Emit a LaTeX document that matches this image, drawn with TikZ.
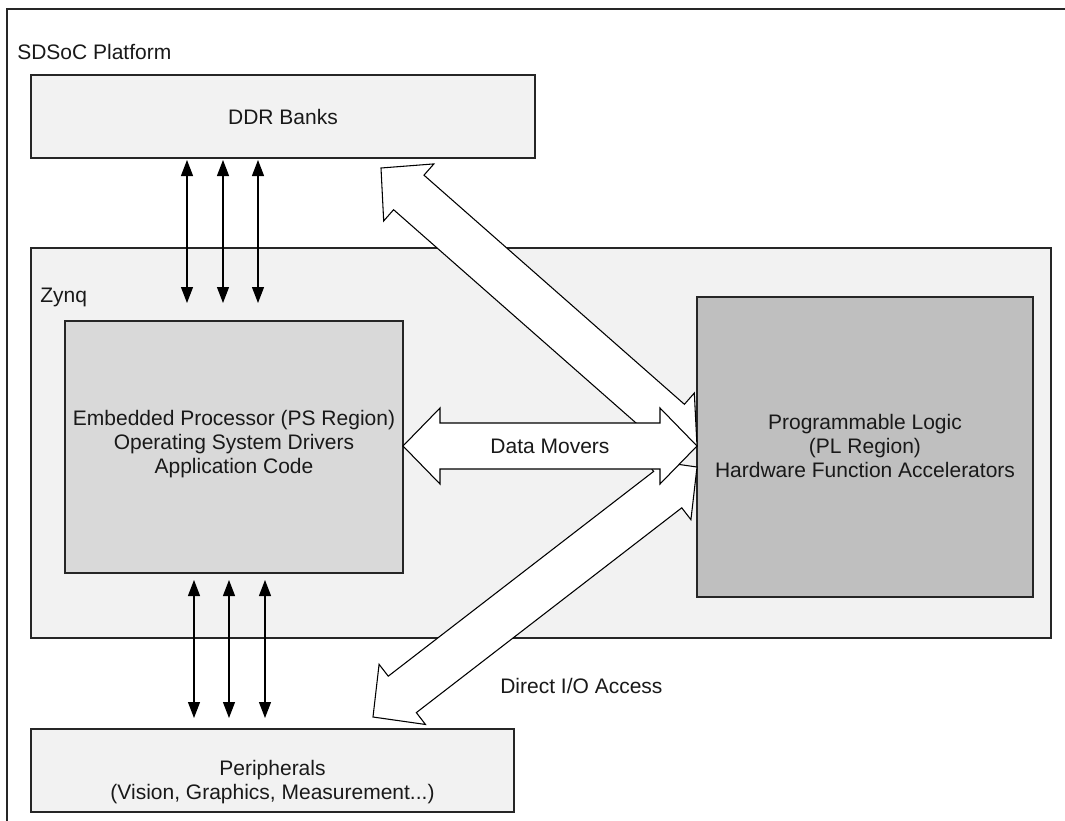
\documentclass[tikz,border=0pt]{standalone}
\usepackage{fontspec}
\setmainfont{Liberation Sans}
\usetikzlibrary{calc,arrows.meta}
\tikzset{
  box/.style={draw=black!85, line width=0.9pt, fill=#1, inner sep=0pt},
  lbl/.style={font=\fontsize{15.75}{18}\selectfont, align=center, inner sep=0pt, text=black!90},
  thinarrow/.style={draw=black, line width=0.9pt, {Triangle[width=9pt,length=12pt]}-{Triangle[width=9pt,length=12pt]}},
  blockarrow/.style={draw=black, line width=0.8pt, fill=white, line join=miter},
}
\newcommand{\blockarr}[2]{%
  \path ($(#1)!27.75pt!(#2)$) coordinate (h1) ($(#2)!27.75pt!(#1)$) coordinate (h2);
  \draw[blockarrow] (#1) -- ($(h1)!28.5pt!90:(#2)$) -- ($(h1)!17.25pt!90:(#2)$)
    -- ($(h2)!17.25pt!-90:(#1)$) -- ($(h2)!28.5pt!-90:(#1)$) -- (#2)
    -- ($(h2)!28.5pt!90:(#1)$) -- ($(h2)!17.25pt!90:(#1)$)
    -- ($(h1)!17.25pt!-90:(#2)$) -- ($(h1)!28.5pt!-90:(#2)$) -- cycle;}
\begin{document}
\begin{tikzpicture}[x=0.75pt,y=-0.75pt]
\useasboundingbox (0,0) rectangle (1065,821);
\clip (0,0) rectangle (1065,821);
\fill[white] (0,0) rectangle (1065,821);
% outer frame
\node[box=white, minimum width=801pt, minimum height=616.5pt] (platform) at (541,420) {};
\node[lbl, anchor=west] (platlbl) at (17,52) {SDSoC Platform};
% boxes
\node[box=black!5, minimum width=378pt, minimum height=62.25pt] (ddr) at (283,116.5) {};
\node[lbl] (ddrlbl) at (283,117) {DDR Banks};
\node[box=black!5, minimum width=765pt, minimum height=292.5pt] (zynq) at (541,443) {};
\node[lbl, anchor=west] (zynqlbl) at (40,297) {Zynq};
\node[box=black!15, minimum width=253.5pt, minimum height=189pt] (ps) at (234,447) {};
\node[lbl] (pslbl) at (234,444) {Embedded Processor (PS Region)\\Operating System Drivers\\Application Code};
\node[box=black!25, minimum width=252pt, minimum height=225pt] (pl) at (865,447) {};
\node[lbl] (pllbl) at (865,446) {Programmable Logic\\(PL Region)\\Hardware Function Accelerators};
\node[box=black!5, minimum width=362.25pt, minimum height=62.25pt] (per) at (272.5,770.5) {};
\node[lbl] (perlbl) at (272.5,782) {Peripherals\\(Vision, Graphics, Measurement...)};
% thin arrows DDR <-> PS
\foreach \i/\x in {1/187,2/223,3/258}{
  \coordinate (dt\i) at (\x,160);
  \coordinate (db\i) at (\x,303);
  \draw[thinarrow] (dt\i) -- (db\i);
}
% thin arrows PS <-> Peripherals
\foreach \i/\x in {1/194,2/229,3/265}{
  \coordinate (pt\i) at (\x,580);
  \coordinate (pb\i) at (\x,718);
  \draw[thinarrow] (pt\i) -- (pb\i);
}
% block arrows
\coordinate (ddrtip) at (381,168);
\coordinate (pltipA) at (697,446);
\coordinate (iotip) at (373,717);
\coordinate (pltipB) at (697,467);
\coordinate (pstip) at (403,446);
\coordinate (pltipC) at (697,446);
\blockarr{ddrtip}{pltipA}
\blockarr{iotip}{pltipB}
\blockarr{pstip}{pltipC}
\node[lbl] (dmlbl) at (550,446) {Data Movers};
\node[lbl, anchor=west] (iolbl) at (500,686) {Direct I/O Access};
\end{tikzpicture}
\end{document}
